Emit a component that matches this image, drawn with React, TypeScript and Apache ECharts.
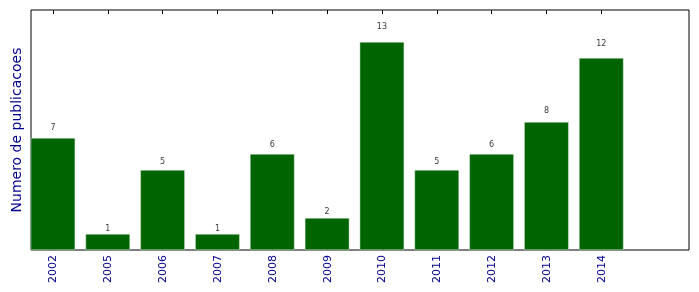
import React, { useEffect, useRef } from "react";
import * as echarts from "echarts";

const years = ["2002", "2005", "2006", "2007", "2008", "2009", "2010", "2011", "2012", "2013", "2014"];
const counts = [7, 1, 5, 1, 6, 2, 13, 5, 6, 8, 12];
const yLabel = "Numero de publicacoes";

export default function App() {
  const ref = useRef<HTMLDivElement>(null);
  useEffect(() => {
    if (!ref.current) return;
    const chart = echarts.init(ref.current, undefined, { renderer: "svg" });
    const idx = years.map((_, i) => i);
    const xCommon = {
      type: "value" as const,
      min: -0.4,
      max: 11.6,
      splitLine: { show: false },
      axisLine: { show: false },
      axisTick: { show: true, inside: true, length: 4, customValues: idx, lineStyle: { color: "#000", width: 1 } },
    };
    chart.setOption({
      animation: false,
      grid: { left: 31, right: 10, top: 10, bottom: 42, show: true, borderColor: "#000", borderWidth: 1, backgroundColor: "transparent" },
      xAxis: [
        {
          ...xCommon,
          position: "bottom",
          axisLabel: {
            show: true,
            customValues: idx,
            rotate: 90,
            margin: 5,
            color: "#00008b",
            fontSize: 11,
            fontFamily: "DejaVu Sans",
            formatter: (v: number) => years[Math.round(v)] ?? "",
          },
        },
        {
          ...xCommon,
          position: "top",
          axisLabel: { show: false },
        },
      ],
      yAxis: {
        type: "value",
        min: 0,
        max: 15,
        splitLine: { show: false },
        axisLine: { show: false },
        axisTick: { show: false },
        axisLabel: { show: false },
        name: yLabel,
        nameLocation: "middle",
        nameGap: 8,
        nameTextStyle: { color: "#00008b", fontSize: 14, fontFamily: "DejaVu Sans" },
      },
      series: [
        {
          type: "bar",
          xAxisIndex: 0,
          data: counts.map((v, i) => [i, v]),
          barWidth: 44.5,
          itemStyle: { color: "#006400", borderColor: "#d8ecd8", borderWidth: 0.5 },
        },
        {
          type: "scatter",
          xAxisIndex: 0,
          symbolSize: 0,
          silent: true,
          data: counts.map((v, i) => [i, v * 1.05]),
          label: {
            show: true,
            position: "top",
            distance: 1,
            color: "#000",
            fontSize: 8,
            fontFamily: "DejaVu Sans",
            formatter: (p: any) => String(counts[p.dataIndex]),
          },
        },
      ],
    });
    return () => chart.dispose();
  }, []);
  return <div ref={ref} style={{ position: "fixed", left: 0, top: 0, width: 699, height: 292 }} />;
}
